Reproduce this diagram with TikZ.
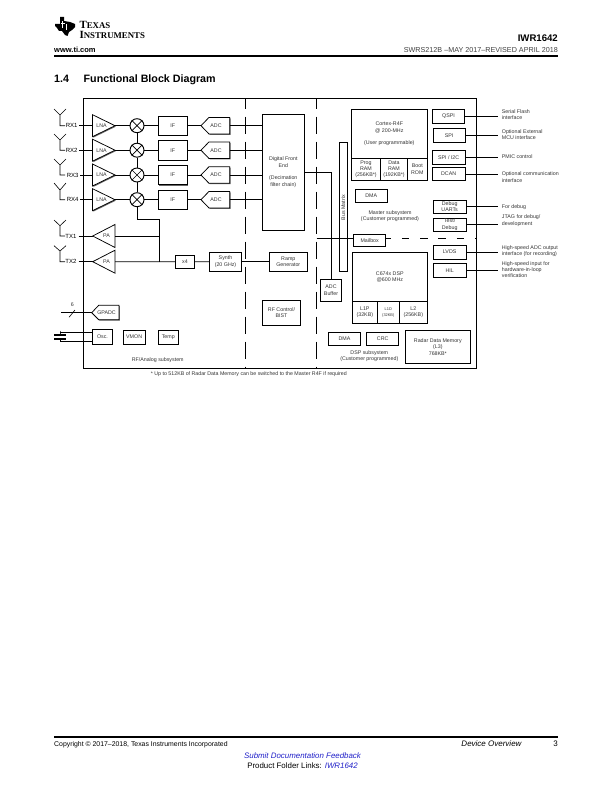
\documentclass[tikz,border=0pt]{standalone}
\usepackage{fontspec}
\setmainfont{Liberation Sans}
\usetikzlibrary{shadows,calc}
\definecolor{tiblue}{RGB}{32,32,200}
\newcommand{\sz}[1]{\fontsize{#1}{\dimexpr#1pt*12/10\relax}\selectfont}
\tikzset{
  wire/.style={line width=0.75pt,line cap=butt},
  blk/.style={draw,line width=0.75pt,fill=white,inner sep=0pt,align=center,font=\sz{5.3}\color{black!80}},
  shd/.style={general shadow={shadow xshift=0.9pt,shadow yshift=-0.9pt,fill=black!60}},
  lbl/.style={inner sep=0pt,align=center,font=\sz{5.3}\color{black!80}},
  side/.style={inner sep=0pt,anchor=west,align=left,font=\sz{5.3}\color{black!80}},
  mixer/.style={circle,draw,line width=0.95pt,fill=white,minimum size=14pt,inner sep=0pt},
  amp/.style={draw,line width=0.75pt,fill=white,line join=miter},
  sep/.style={line width=0.85pt,dash pattern=on 17pt off 8pt,dash phase=6.8pt},
  ant/.style={line width=0.6pt},
  page/.style={inner sep=0pt,anchor=base west}
}
% \bx[opts]{x1}{y1}{x2}{y2}{text}{name}
\newcommand{\bx}[7][]{%
  \pgfmathsetlengthmacro{\bxw}{((#4)-(#2))*1pt}%
  \pgfmathsetlengthmacro{\bxh}{((#5)-(#3))*1pt}%
  \node[blk,#1,minimum width=\bxw,minimum height=\bxh] (#7) at ({((#2)+(#4))/2},{((#3)+(#5))/2}) {#6};}
\begin{document}
\begin{tikzpicture}[x=1pt,y=-1pt]
\useasboundingbox (0,0) rectangle (612,792);
% ---- page furniture
\fill[black] (60,17) -- (64,17) -- (64,21) -- (70,22) -- (75,24) -- (75,27) -- (72,30) -- (69,32) -- (67.5,36) -- (65,35) -- (62,31) -- (59,31) -- (57,28) -- (55,26) -- (55,24) -- (60,24) -- cycle;
\fill[white] (62.3,21.5) rectangle (63.2,28);
\fill[white] (65.5,24) rectangle (66.4,30);
\fill[white] (61,23) rectangle (64.5,23.8);
\node[page,font=\bfseries\sz{11}\fontspec{Liberation Serif}] (texas) at (79.3,28.8) {T{\sz{8.8}EXAS}};
\node[page,font=\bfseries\sz{11}\fontspec{Liberation Serif}] (instr) at (79.3,38.6) {I{\sz{8.8}NSTRUMENTS}};
\node[inner sep=0pt,anchor=base east,font=\bfseries\sz{9.6}] (part) at (558,42) {IWR1642};
\node[page,font=\bfseries\sz{7.5}] (web) at (54,52.8) {www.ti.com};
\node[inner sep=0pt,anchor=base east,font=\sz{7.2}\color{black!75}] (rev) at (558,52.8) {SWRS212B –MAY 2017–REVISED APRIL 2018};
\draw[line width=1.5pt] (54,55.8) -- (558,55.8);
\node[page,font=\bfseries\sz{10.7}] (secn) at (54,82.8) {1.4};
\node[page,font=\bfseries\sz{10.7}] (sect) at (83.5,82.8) {Functional Block Diagram};
\draw[line width=1.5pt] (54,736.8) -- (558,736.8);
\node[page,font=\sz{6.9}] (copy) at (54,746.8) {Copyright © 2017–2018, Texas Instruments Incorporated};
\node[inner sep=0pt,anchor=base east,font=\itshape\sz{8}] (ov) at (521.7,746.8) {Device Overview};
\node[inner sep=0pt,anchor=base east,font=\sz{8}] (pg) at (558,746.8) {3};
\node[inner sep=0pt,anchor=base,font=\itshape\sz{7.9}\color{tiblue}] (fb) at (302.5,758) {Submit Documentation Feedback};
\node[inner sep=0pt,anchor=base,font=\sz{7.9}] (pf) at (302.5,768) {Product Folder Links: \textcolor{tiblue}{\itshape IWR1642}};
% ---- outer frame and subsystem separators
\draw[wire] (83.5,98.5) rectangle (476,368);
\coordinate (s1t) at (245.5,98.5); \coordinate (s1b) at (245.5,368);
\coordinate (s2t) at (316.5,98.5); \coordinate (s2b) at (316.5,368);
\draw[sep] (s1t) -- (s1b);
\draw[sep] (s2t) -- (s2b);
% ---- big digital blocks
\bx{262.3}{114.3}{304.3}{230}{Digital Front\\End\\[6pt](Decimation\\filter chain)}{dfe}
\bx{339.3}{142.3}{347.3}{271.3}{}{bus}
\node[lbl,rotate=90] (bustxt) at (343.3,207.5) {Bus Matrix};
% ---- receive chains
\foreach \n/\yy/\lx/\tipy/\cy in {1/125.7/71.7/109/115,2/150.2/71.7/134/140,3/175/72.7/159/165,4/199.7/72.7/183/190}{
  \coordinate (ra\n) at (60,\yy);
  \coordinate (rc\n) at (60,\cy);
  \draw[ant] (54,\tipy) -- (rc\n) -- (66,\tipy) (rc\n) -- (ra\n) -- (65,\yy);
  \node[lbl,font=\sz{6}] (rx\n) at (\lx,\yy) {RX\n};
  \coordinate (lnat\n) at (115,\yy);
  \coordinate (lnai\n) at (92.5,\yy);
  \draw[wire] (rx\n.east)++(1.5,0) -- (lnai\n);
  \draw[amp,shd] (92.5,\yy-11) -- (lnat\n) -- (92.5,\yy+11) -- cycle;
  \node[lbl] (lna\n) at (101.5,\yy) {LNA};
  \node[mixer] (m\n) at (137,\yy) {};
  \draw[line width=.7pt] (m\n.north west) -- (m\n.south east) (m\n.north east) -- (m\n.south west);
  \draw[wire] (lnat\n) -- (m\n);
  \bx[shd]{158.3}{\yy-9.7}{187}{\yy+9.7}{IF}{if\n}
  \draw[wire] (m\n) -- (if\n);
  \coordinate (adct\n) at (201,\yy);
  \coordinate (adcr\n) at (229.7,\yy);
  \draw[amp,shd] (adct\n) -- (209,\yy-8.3) -- (229.7,\yy-8.3) -- (229.7,\yy+8.3) -- (209,\yy+8.3) -- cycle;
  \node[lbl] (adc\n) at (216,\yy) {ADC};
  \draw[wire] (if\n) -- (adct\n);
  \draw[wire] (adcr\n) -- (adcr\n -| dfe.west);
}
\draw[wire] (m1) -- (m2);
\draw[wire] (m2) -- (m3);
\draw[wire] (m3) -- (m4);
% ---- transmit chains
\foreach \n/\yy/\tipy/\cy/\lx in {1/236/220/225.7/71,2/261.7/245.7/251/71}{
  \coordinate (ta\n) at (60,\yy);
  \coordinate (tc\n) at (60,\cy);
  \draw[ant] (54,\tipy) -- (tc\n) -- (66,\tipy) (tc\n) -- (ta\n) -- (65,\yy);
  \node[lbl,font=\sz{6}] (tx\n) at (\lx,\yy) {TX\n};
  \coordinate (pat\n) at (92.7,\yy);
  \coordinate (par\n) at (115,\yy);
  \draw[wire] (tx\n.east)++(2,0) -- (pat\n);
  \draw[amp] (pat\n) -- (115,\yy-11.5) -- (115,\yy+11.5) -- cycle;
  \node[lbl] (pa\n) at (106.5,\yy) {PA};
}
\coordinate (loj) at (159.3,219.3);
\coordinate (tj1) at (159.3,236);
\coordinate (tj2) at (159.3,261.7);
\bx{175.3}{255.3}{194.7}{268.3}{x4}{x4}
\bx{209.3}{252.3}{241.7}{271}{Synth\\(20 GHz)}{synth}
\bx{269.3}{252.3}{307.3}{271}{Ramp\\Generator}{ramp}
\draw[wire] (m4) |- (loj) -- (tj2);
\draw[wire] (par1) -- (tj1);
\draw[wire] (par2) -- (x4);
\draw[wire] (x4) -- (synth);
\draw[wire] (synth) -- (ramp);
% ---- GPADC, clock, monitors
\coordinate (gpt) at (91.7,312.7);
\coordinate (gpl) at (61,312.7);
\draw[amp,shd] (gpt) -- (98.7,305.3) -- (119,305.3) -- (119,319.7) -- (98.7,319.7) -- cycle;
\node[lbl] (gpadc) at (106.5,312.5) {GPADC};
\draw[wire] (gpl) -- (gpt);
\draw[line width=.6pt] (69,317.3) -- (75,310);
\node[lbl] (six) at (72.3,305) {6};
\bx{92.3}{329.3}{112.7}{344.7}{Osc.}{osc}
\coordinate (xa) at (60,332.3);
\coordinate (xb) at (60,341.7);
\draw[wire] (xa) -- (xa -| osc.west);
\draw[wire] (xb) -- (xb -| osc.west);
\draw[wire] (60,330.7) -- (xa) -- (60,335);
\draw[wire] (xb) -- (60,339);
\draw[line width=1.3pt] (54,335) -- (66,335) (54,339) -- (66,339);
\bx{123.3}{330}{145}{344.3}{VMON}{vmon}
\bx{158.3}{330}{178.3}{344.3}{Temp}{temp}
\node[lbl] (rfa) at (157.7,360) {RF/Analog subsystem};
\bx{262.7}{300.3}{300.3}{325.3}{RF Control/\\BIST}{rfc}
\node[inner sep=0pt,anchor=west,font=\sz{5.27}\color{black!80}] (fn) at (150.7,374.5) {* Up to 512KB of Radar Data Memory can be switched to the Master R4F if required};
% ---- ADC buffer
\bx{320.3}{279.3}{341.7}{301.3}{ADC\\Buffer}{abuf}
\coordinate (dfeo) at (304.3,172);
\draw[wire] (dfeo) -| (abuf.north);
% ---- master subsystem
\bx{351.3}{109.3}{427.3}{158.3}{Cortex-R4F\\@ 200-MHz\\[6pt](User programmable)}{cortex}
\bx{351.3}{158.3}{380.7}{180.3}{Prog\\RAM\\(256KB*)}{prog}
\bx{380.7}{158.3}{407.3}{180.3}{Data\\RAM\\(192KB*)}{data}
\bx{407.3}{158.3}{427.3}{180.3}{Boot\\ROM}{boot}
\bx{355.3}{189.3}{387.3}{202}{DMA}{dma}
\node[lbl] (mast) at (390,216) {Master subsystem\\(Customer programmed)};
\bx{353.7}{234}{385.7}{246.7}{Mailbox}{mail}
\coordinate (ml) at (316.5,238.3);
\coordinate (mr) at (476,238.3);
\draw[wire] (ml) -- (ml -| mail.west);
\draw[line width=.75pt,dash pattern=on 7.5pt off 10.8pt,dash phase=2.5pt] (mail.east |- ml) -- (mr);
% ---- DSP subsystem
\bx{352.3}{252.3}{427.3}{301.3}{C674x DSP\\@600 MHz}{dsp}
\bx{352.3}{301.3}{377.3}{323.3}{L1P\\(32KB)}{lip}
\bx{377.3}{301.3}{399.3}{323.3}{\sz{3.9}L1D\\\sz{3.9}(32KB)}{lid}
\bx{399.3}{301.3}{427.3}{323.3}{L2\\(256KB)}{ltwo}
\bx{328.3}{332.3}{360.7}{345}{DMA}{dmb}
\bx{366.7}{332.3}{398.7}{345}{CRC}{crc}
\bx{405.3}{330.3}{470.3}{363.3}{Radar Data Memory\\(L3)\\768KB*}{radar}
\node[lbl] (dsps) at (369.3,356.2) {DSP subsystem\\(Customer programmed)};
% ---- peripherals with external labels
\foreach \nm/\xa/\ya/\xb/\yb/\txt in {qspi/432.3/109.3/464.7/123.3/QSPI,spi/433.3/128.3/465/142.3/SPI,spii/432.3/150.3/465/164.3/{SPI / I2C},dcan/432.3/167.3/465/180.7/DCAN,uart/433.3/200.3/466/213/{Debug\\UARTs},test/433.3/218.3/466/231/{Test/\\Debug},lvds/433.3/245/466/259.3/LVDS,hil/433.3/263.3/466/277.3/HIL}{
  \bx{\xa}{\ya}{\xb}{\yb}{\txt}{\nm}
  \coordinate (\nm o) at (498.3,{(\ya+\yb)/2});
  \draw[wire] (\nm) -- (\nm o);
}
\node[side] (tqspi) at (501.7,114.9) {Serial Flash\\interface};
\node[side] (tspi) at (501.7,134.9) {Optional External\\MCU interface};
\node[side] (tpmic) at (501.7,157) {PMIC control};
\node[side] (tcan) at (501.7,177) {Optional communication\\interface};
\node[side] (tuart) at (501.7,206.7) {For debug};
\node[side] (ttest) at (501.7,220.7) {JTAG for debug/\\development};
\node[side] (tlvds) at (501.7,251) {High-speed ADC output\\interface (for recording)};
\node[side] (thil) at (501.7,269.7) {High-speed input for\\hardware-in-loop\\verification};
\end{tikzpicture}
\end{document}
